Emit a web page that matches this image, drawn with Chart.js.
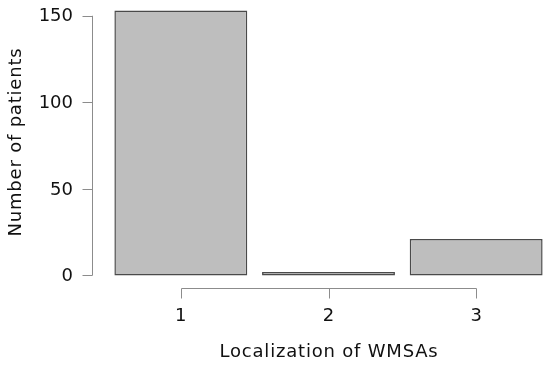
<!DOCTYPE html>
<html>
<head>
<meta charset="utf-8">
<script src="https://cdn.jsdelivr.net/npm/chart.js@4/dist/chart.umd.min.js"></script>
<style>
  html, body { margin: 0; padding: 0; background: #fff; }
  #wrap { width: 550px; height: 367px; }
</style>
</head>
<body>
<div id="wrap"><canvas id="chart" width="550" height="367"></canvas></div>
<script>
// data
const categories = ["1", "2", "3"];
const patientCounts = [153, 2, 21];
const yTicks = [0, 50, 100, 150];
const xTitle = "Localization of WMSAs";
const yTitle = "Number of patients";

const FONT = '"DejaVu Sans", Verdana, sans-serif';

// R-style detached axes, drawn from the chart's own scales
const rAxes = {
    id: "rAxes",
    afterDraw(chart) {
        const { ctx, scales: { x, y } } = chart;
        ctx.save();
        ctx.strokeStyle = "#8c8c8c";
        ctx.lineWidth = 1;
        ctx.fillStyle = "#111111";
        ctx.font = "18px " + FONT;

        // y axis
        const yx = 92.5;
        ctx.beginPath();
        ctx.moveTo(yx, y.getPixelForValue(yTicks[0]));
        ctx.lineTo(yx, y.getPixelForValue(yTicks[yTicks.length - 1]));
        yTicks.forEach(t => {
            const py = Math.round(y.getPixelForValue(t)) + 0.5;
            ctx.moveTo(yx, py);
            ctx.lineTo(yx - 10, py);
        });
        ctx.stroke();
        ctx.textAlign = "right";
        ctx.textBaseline = "middle";
        yTicks.forEach(t => ctx.fillText(String(t), 73, y.getPixelForValue(t) + 1));

        // x axis
        const xy = 288.5;
        const x0 = Math.round(x.getPixelForValue(0)) + 0.5;
        const x1 = Math.round(x.getPixelForValue(categories.length - 1)) + 0.5;
        ctx.beginPath();
        ctx.moveTo(x0, xy);
        ctx.lineTo(x1, xy);
        categories.forEach((c, i) => {
            const px = Math.round(x.getPixelForValue(i)) + 0.5;
            ctx.moveTo(px, xy);
            ctx.lineTo(px, xy + 10);
        });
        ctx.stroke();
        ctx.textAlign = "center";
        ctx.textBaseline = "middle";
        categories.forEach((c, i) => ctx.fillText(c, x.getPixelForValue(i), 316));

        // titles
        ctx.letterSpacing = "0.8px";
        ctx.fillText(xTitle, (x0 + x1) / 2, 352);
        ctx.translate(16, 142);
        ctx.rotate(-Math.PI / 2);
        ctx.fillText(yTitle, 0, 0);
        ctx.restore();
    }
};

new Chart(document.getElementById("chart"), {
    type: "bar",
    data: {
        labels: categories,
        datasets: [{
            data: patientCounts,
            backgroundColor: "#bebebe",
            borderColor: "#4a4a4a",
            borderWidth: 1.5,
            borderSkipped: false,
            barPercentage: 0.9,
            categoryPercentage: 1.0
        }]
    },
    options: {
        responsive: false,
        animation: false,
        layout: { padding: { left: 107, right: 0, top: 0, bottom: 81 } },
        plugins: { legend: { display: false }, tooltip: { enabled: false } },
        scales: {
            x: { display: false },
            y: { display: false, min: -6.12, max: 159.12 }
        }
    },
    plugins: [rAxes]
});
</script>
</body>
</html>
